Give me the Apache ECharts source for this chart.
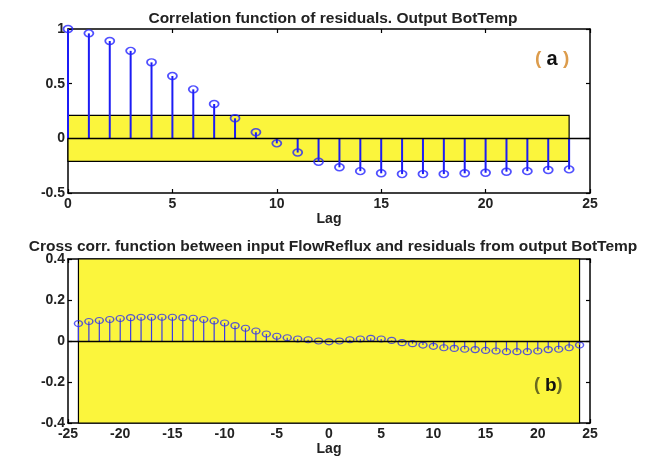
<!DOCTYPE html>
<html>
<head>
<meta charset="utf-8">
<script src="https://cdn.jsdelivr.net/npm/echarts@6/dist/echarts.min.js"></script>
<style>html,body{margin:0;padding:0;background:#fff}#c{width:653px;height:462px}</style>
</head>
<body>
<div id="c"></div>
<script>
// ---- data ----
const acfLags = [0,1,2,3,4,5,6,7,8,9,10,11,12,13,14,15,16,17,18,19,20,21,22,23,24];
const acfValues = [1.0,0.96,0.89,0.80,0.695,0.57,0.448,0.314,0.183,0.055,-0.046,-0.13,-0.214,-0.265,-0.30,-0.32,-0.327,-0.327,-0.327,-0.32,-0.315,-0.305,-0.30,-0.29,-0.284];
const acfConf = 0.21;
const acfBandLags = [0, 24];
const ccfLags = [-24,-23,-22,-21,-20,-19,-18,-17,-16,-15,-14,-13,-12,-11,-10,-9,-8,-7,-6,-5,-4,-3,-2,-1,0,1,2,3,4,5,6,7,8,9,10,11,12,13,14,15,16,17,18,19,20,21,22,23,24];
const ccfValues = [0.085,0.095,0.10,0.105,0.11,0.114,0.116,0.116,0.116,0.116,0.114,0.111,0.105,0.098,0.088,0.075,0.062,0.049,0.034,0.023,0.016,0.010,0.006,0.0,-0.004,0.0,0.006,0.010,0.013,0.010,0.003,-0.008,-0.013,-0.020,-0.026,-0.033,-0.036,-0.040,-0.042,-0.046,-0.049,-0.052,-0.052,-0.052,-0.049,-0.042,-0.040,-0.033,-0.020];
const ccfConf = 0.4;
const ccfBandLags = [-24, 24];
const acfXTicks = {min:0, max:25, interval:5};
const acfYTicks = {min:-0.5, max:1, interval:0.5};
const ccfXTicks = {min:-25, max:25, interval:5};
const ccfYTicks = {min:-0.4, max:0.4, interval:0.2};
const titles = ['Correlation function of residuals. Output BotTemp',
                'Cross corr. function between input FlowReflux and residuals from output BotTemp'];

// ---- chart ----
const FONT = '"Liberation Sans", Arial, sans-serif';
const chart = echarts.init(document.getElementById('c'), null, {renderer:'canvas'});
const pair = (xs, ys) => xs.map((x,i)=>[x, ys[i]]);

function axisX(idx, t, pos, showLabel){
  return {
    type:'value', gridIndex:idx, position:pos, min:t.min, max:t.max, interval:t.interval,
    name: showLabel ? 'Lag' : '', nameLocation:'middle', nameGap: idx===0 ? 11 : 14,
    nameTextStyle:{fontFamily:FONT, fontWeight:'bold', fontSize:14, color:'#222', verticalAlign:'top'},
    axisLine:{show:true, onZero:false, lineStyle:{color:'#000', width:1.5}},
    axisTick:{show:true, inside:true, length:4, lineStyle:{color:'#000', width:1.2}},
    axisLabel:{show:showLabel, fontFamily:FONT, fontWeight:'bold', fontSize:14, color:'#222', margin:4},
    splitLine:{show:false}
  };
}
function axisY(idx, t, pos, showLabel){
  return {
    type:'value', gridIndex:idx, position:pos, min:t.min, max:t.max, interval:t.interval,
    axisLine:{show:true, onZero:false, lineStyle:{color:'#000', width:1.5}},
    axisTick:{show:true, inside:true, length:4, lineStyle:{color:'#000', width:1.2}},
    axisLabel:{show:showLabel, fontFamily:FONT, fontWeight:'bold', fontSize:14, color:'#222', margin:3},
    splitLine:{show:false}
  };
}
function stems(xi, yi, data, color, width){
  return {
    type:'custom', xAxisIndex:xi, yAxisIndex:yi, z:3, data:data,
    renderItem:(params, api)=>{
      const x = api.value(0), y = api.value(1);
      const p0 = api.coord([x,0]), p1 = api.coord([x,y]);
      return {type:'line', shape:{x1:p0[0],y1:p0[1],x2:p1[0],y2:p1[1]},
              style:{stroke:color, lineWidth:width}};
    }
  };
}
function markers(xi, yi, data, size, color, width){
  return {
    type:'scatter', xAxisIndex:xi, yAxisIndex:yi, z:4, data:data,
    symbol:'circle', symbolSize:size,
    itemStyle:{color:'rgba(0,0,0,0)', borderColor:color, borderWidth:width},
    silent:true
  };
}
function band(xi, yi, bandLags, conf, xmin, xmax){
  return {
    type:'line', xAxisIndex:xi, yAxisIndex:yi, z:1, data:[[xmin,0]], showSymbol:false,
    lineStyle:{opacity:0}, silent:true,
    markArea:{silent:true, itemStyle:{color:'#fbf53c', borderColor:'#000', borderWidth:1.2},
      data:[[{coord:[bandLags[0], -conf]}, {coord:[bandLags[1], conf]}]]},
    markLine:{silent:true, symbol:'none', label:{show:false},
      lineStyle:{color:'#000', width:1.3, type:'solid'},
      data:[[{coord:[xmin,0]},{coord:[xmax,0]}]]}
  };
}

const option = {
  animation:false,
  backgroundColor:'#fff',
  title:[
    {text:titles[0], left:328, top:6, textAlign:'center',
     textStyle:{fontFamily:FONT, fontWeight:'bold', fontSize:15.5, color:'#222'}},
    {text:titles[1], left:328, top:234, textAlign:'center',
     textStyle:{fontFamily:FONT, fontWeight:'bold', fontSize:15.5, color:'#222'}}
  ],
  grid:[
    {left:68, top:29, width:522, height:164},
    {left:68, top:259, width:522, height:164}
  ],
  xAxis:[
    axisX(0, acfXTicks, 'bottom', true),
    axisX(0, acfXTicks, 'top', false),
    axisX(1, ccfXTicks, 'bottom', true),
    axisX(1, ccfXTicks, 'top', false)
  ],
  yAxis:[
    axisY(0, acfYTicks, 'left', true),
    axisY(0, acfYTicks, 'right', false),
    axisY(1, ccfYTicks, 'left', true),
    axisY(1, ccfYTicks, 'right', false)
  ],
  series:[
    band(0, 0, acfBandLags, acfConf, acfXTicks.min, acfXTicks.max),
    stems(0, 0, pair(acfLags, acfValues), '#1c1cf5', 2),
    markers(0, 0, pair(acfLags, acfValues), [9,7], '#2424ff', 1.6),
    band(2, 2, ccfBandLags, ccfConf, ccfXTicks.min, ccfXTicks.max),
    stems(2, 2, pair(ccfLags, ccfValues), '#3a3ae8', 1.2),
    markers(2, 2, pair(ccfLags, ccfValues), [8,6], '#3030f0', 1.3)
  ],
  graphic:[
    {type:'text', left:535, top:49, z:10, style:{
      text:'{p|( }{l|a}{p| )}',
      rich:{p:{fill:'#dc9c4c', fontSize:19, fontWeight:'bold', fontFamily:FONT},
            l:{fill:'#111', fontSize:20, fontWeight:'bold', fontFamily:FONT}}}},
    {type:'text', left:534, top:376, z:10, style:{
      text:'{p|( }{l|b}{p|)}',
      rich:{p:{fill:'#6a6a20', fontSize:18, fontWeight:'bold', fontFamily:FONT},
            l:{fill:'#111', fontSize:19, fontWeight:'bold', fontFamily:FONT}}}}
  ]
};
chart.setOption(option);
</script>
</body>
</html>
